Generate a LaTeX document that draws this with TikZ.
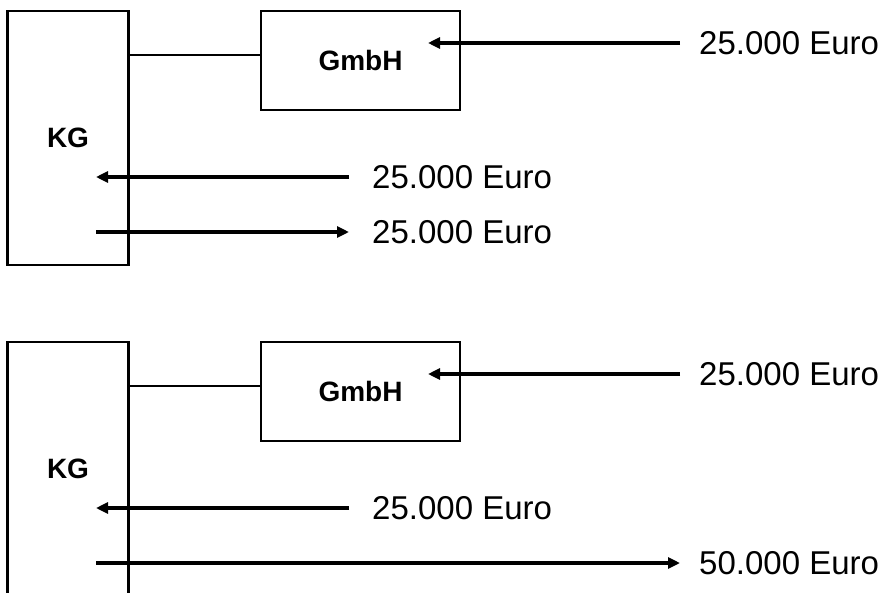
\documentclass[tikz,border=0pt]{standalone}
\usepackage{fontspec}
\setmainfont{Liberation Sans}
\usetikzlibrary{arrows.meta}
\tikzset{
  entity/.style={draw, line width=2.8pt, inner sep=0pt, outer sep=0pt,
    font=\fontsize{28}{32}\selectfont\bfseries},
  kgbox/.style={entity, minimum width=121pt, minimum height=254pt},
  gmbhbox/.style={entity, minimum width=199pt, minimum height=99pt},
  amount/.style={anchor=west, inner sep=0pt, font=\fontsize{33}{38}\selectfont},
  flow/.style={line width=3.3pt, -{Triangle[length=12pt,width=11pt]}},
  link/.style={line width=2.8pt}
}
\begin{document}
\begin{tikzpicture}[x=1pt,y=-1pt]
\useasboundingbox (0,0) rectangle (889,592);
\clip (0,0) rectangle (889,592);

% ---------- upper case ----------
\node[kgbox] (KG1) at (68,138) {KG};
\node[gmbhbox] (G1) at (360.5,60.5) {GmbH};
\coordinate (j1) at (0,55);
\draw[link] (KG1.east |- j1) -- (G1.west |- j1);

\node[amount] (A1) at (699,43) {25.000 Euro};
\coordinate (a1s) at (680,43);
\coordinate (a1t) at (428,43);
\draw[flow] (a1s) -- (a1t);

\node[amount] (B1) at (372,177) {25.000 Euro};
\coordinate (b1s) at (349,177);
\coordinate (b1t) at (96,177);
\draw[flow] (b1s) -- (b1t);

\node[amount] (C1) at (372,232) {25.000 Euro};
\coordinate (c1s) at (96,232);
\coordinate (c1t) at (349,232);
\draw[flow] (c1s) -- (c1t);

% ---------- lower case ----------
\node[kgbox] (KG2) at (68,469) {KG};
\node[gmbhbox] (G2) at (360.5,391.5) {GmbH};
\coordinate (j2) at (0,386);
\draw[link] (KG2.east |- j2) -- (G2.west |- j2);

\node[amount] (A2) at (699,374) {25.000 Euro};
\coordinate (a2s) at (680,374);
\coordinate (a2t) at (428,374);
\draw[flow] (a2s) -- (a2t);

\node[amount] (B2) at (372,508) {25.000 Euro};
\coordinate (b2s) at (349,508);
\coordinate (b2t) at (96,508);
\draw[flow] (b2s) -- (b2t);

\node[amount] (C2) at (699,563) {50.000 Euro};
\coordinate (c2s) at (96,563);
\coordinate (c2t) at (680,563);
\draw[flow] (c2s) -- (c2t);
\end{tikzpicture}
\end{document}
